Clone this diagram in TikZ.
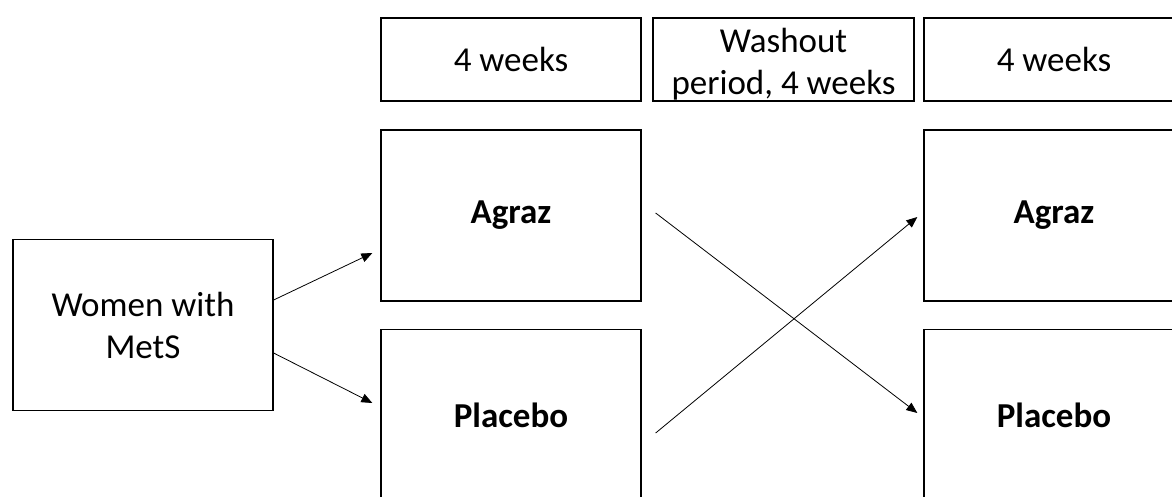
\documentclass[tikz,border=0pt]{standalone}
\usepackage{fontspec}
\setmainfont{Carlito}
\usetikzlibrary{arrows.meta}
\begin{document}
\begin{tikzpicture}[x=1pt,y=-1pt,
  txt/.style={align=center, inner sep=0pt, font=\fontsize{35}{42}\selectfont},
  box/.style={txt, draw=black, line width=1.3pt, rectangle, minimum width=260pt},
  tall/.style={box, minimum height=171pt},
  short/.style={box, minimum height=83pt},
  bold/.style={font=\fontsize{35}{42}\selectfont\bfseries},
  conn/.style={line width=0.8pt, -{Triangle[length=11pt,width=9pt]}}]
\useasboundingbox (0,0) rectangle (1172,496);
\clip (0,0) rectangle (1172,496);
\node[short] (w1) at (511,59.5) {4 weeks};
\node[short, minimum width=261pt] (wash) at (783.5,59.5) {};
\node[txt] (washtext) at ([yshift=-5pt]wash.center) {Washout\\period, 4 weeks};
\node[short] (w2) at (1054,59.5) {4 weeks};
\node[tall] (women) at (143,325) {Women with\\MetS};
\node[tall, bold] (agrazL) at (511,215.5) {Agraz};
\node[tall, bold] (placeboL) at (511,415) {Placebo};
\node[tall, bold] (agrazR) at (1054,215.5) {Agraz};
\node[tall, bold] (placeboR) at (1054,415) {Placebo};
\draw[conn] ([yshift=25pt]women.east) -- ([xshift=-8pt,yshift=-37.5pt]agrazL.west);
\draw[conn] ([yshift=-28pt]women.east) -- ([xshift=-8pt,yshift=12pt]placeboL.west);
\draw[conn] ([xshift=14pt,yshift=2.5pt]agrazL.east) -- ([xshift=-6pt,yshift=2pt]placeboR.west);
\draw[conn] ([xshift=14pt,yshift=-18pt]placeboL.east) -- ([xshift=-6pt,yshift=-1.5pt]agrazR.west);
\end{tikzpicture}
\end{document}
